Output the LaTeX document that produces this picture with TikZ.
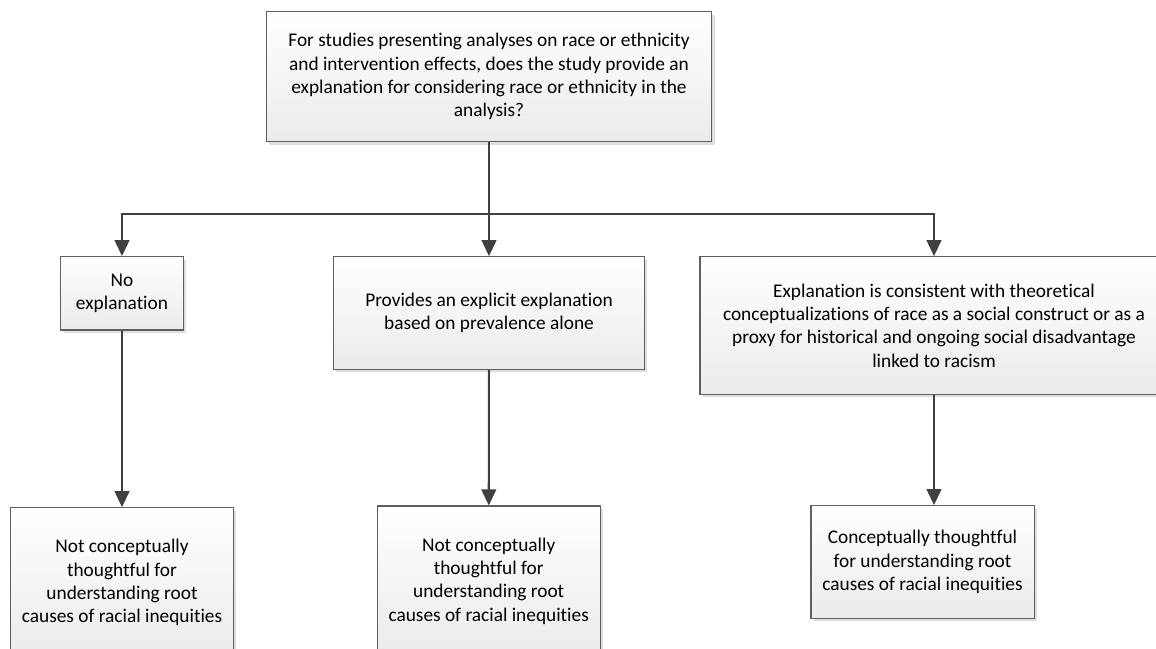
\documentclass[tikz,border=0pt]{standalone}
\usepackage{fontspec}
\setmainfont[Ligatures=NoCommon]{Carlito}
\usetikzlibrary{arrows.meta,shadows}

\definecolor{boxline}{HTML}{5F5F5F}
\definecolor{boxfill}{HTML}{EBEBEB}
\definecolor{linkgray}{HTML}{404040}

\tikzset{
  box/.style={rectangle, draw=boxline, line width=.8pt, top color=white, bottom color=boxfill,
    align=center, inner sep=0pt, font=\fontsize{14.5}{17.5}\selectfont,
    drop shadow={shadow xshift=2.2pt, shadow yshift=-2.2pt, opacity=1, fill=black!13}},
  link/.style={draw=linkgray, line width=1.6pt, -{Triangle[length=12pt,width=11pt]}}
}

\begin{document}
\begin{tikzpicture}[x=0.75pt,y=-0.75pt]
        \path[use as bounding box, clip] (0,0) rectangle (1156,649);

        \begin{scope}[every node/.style={box}]
          \node[minimum width=334.3pt, minimum height=97.5pt] (1) at (489,76.7)
            {For studies presenting analyses on race or ethnicity\\and intervention effects, does the study provide an\\explanation for considering race or ethnicity in the\\analysis?};
          \node[minimum width=92pt, minimum height=55pt] (2) at (122,293.3)
            {No\\explanation};
          \node[minimum width=233.3pt, minimum height=84.5pt] (3) at (489,313)
            {Provides an explicit explanation\\based on prevalence alone};
          \node[minimum width=351pt, minimum height=103.2pt] (4) at (934,325.5)
            {Explanation is consistent with theoretical\\conceptualizations of race as a social construct or as a\\proxy for historical and ongoing social disadvantage\\linked to racism};
          \node[minimum width=167pt, minimum height=112.5pt] (5) at (122,582.7)
            {Not conceptually\\thoughtful for\\understanding root\\causes of racial inequities};
          \node[minimum width=167pt, minimum height=112.5pt] (6) at (488.7,581)
            {Not conceptually\\thoughtful for\\understanding root\\causes of racial inequities};
          \node[minimum width=167.3pt, minimum height=84.5pt] (7) at (922.5,562)
            {Conceptually thoughtful\\for understanding root\\causes of racial inequities};
        \end{scope}

        \coordinate (s) at (489,214);

        \draw[link] (1) -- (s) -| (2);
        \draw[link] (s) -| (4);

        \begin{scope}[every edge/.style={link}]
          \path (s) edge (3);
          \path (2) edge (5);
          \path (3) edge (6);
          \path (4.south) edge (4.south |- 7.north);
        \end{scope}

\end{tikzpicture}
\end{document}
